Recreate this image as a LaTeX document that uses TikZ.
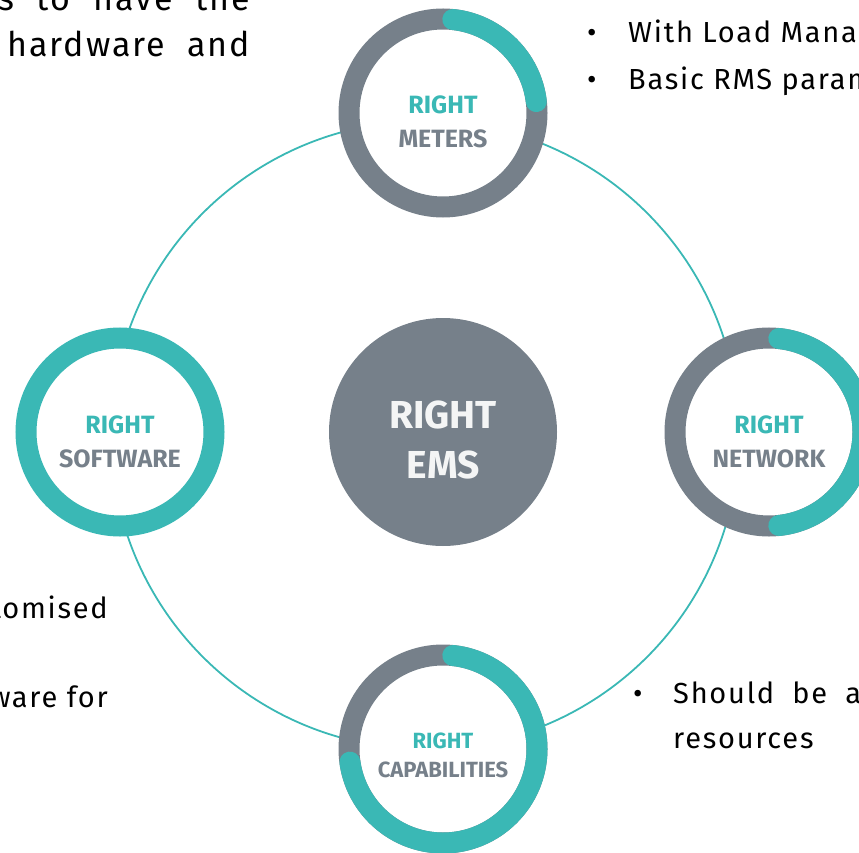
\documentclass[tikz,border=0pt]{standalone}
\usepackage{fontspec}
\setmainfont{Fira Sans}[LetterSpace=6]
\newfontfamily\labelfont{Fira Sans}
\usepackage{tikz}
\usepackage{xcolor}
\definecolor{emsteal}{HTML}{3AB8B5}
\definecolor{emsgrey}{HTML}{76808A}
\definecolor{emswhite}{HTML}{F4F5F5}
\tikzset{
    ring/.style = {circle, draw=emsgrey, fill=white, line width=21pt, minimum size=188pt, inner sep=0pt},
    ring-arc/.style = {draw=emsteal, line width=21pt, line cap=round},
    big-ring/.style = {draw=emsteal, line width=1.8pt},
    hub/.style = {circle, fill=emsgrey, minimum size=228pt, inner sep=0pt},
    hub-text/.style = {anchor=base, text=emswhite, font=\labelfont\bfseries\fontsize{39}{39}\selectfont},
    ring-top/.style = {anchor=base, text=emsteal, font=\labelfont\bfseries\fontsize{25}{25}\selectfont},
    ring-bot/.style = {anchor=base, text=emsgrey, font=\labelfont\bfseries\fontsize{25}{25}\selectfont},
    body/.style = {anchor=base west, inner sep=0pt, font=\fontsize{29}{29}\selectfont},
}

\begin{document}
\begin{tikzpicture}[x=1pt, y=1pt]
\useasboundingbox (0,0) rectangle (859,-853);
\clip (0,0) rectangle (859,-853);

% centre and the circle through the four rings
\node [hub] (ems) at (443,-432) {};
\coordinate (loop-c) at ([shift={(-18pt,-3pt)}]ems.center);
\draw [big-ring] (loop-c) circle [radius=314pt];
\node [hub-text] (ems-a) at (443,-428) {RIGHT};
\node [hub-text] (ems-b) at (443,-478) {EMS};

% rings
\node [ring] (meters) at (443,-113) {};
\node [ring] (network) at (769,-432) {};
\node [ring] (capab) at (443,-749) {};
\node [ring, draw=emsteal] (software) at (120,-432) {};

% teal parts of the rings
\draw [ring-arc] ([shift={(84:94pt)}]meters.center) arc [start angle=84, end angle=7, radius=94pt];
\draw [ring-arc] ([shift={(84:94pt)}]network.center) arc [start angle=84, end angle=-84, radius=94pt];
\draw [ring-arc] ([shift={(84:94pt)}]capab.center) arc [start angle=84, end angle=-172, radius=94pt];

% ring labels
\node [ring-top] (meters-a) at ([yshift=-1pt]meters.center) {RIGHT};
\node [ring-bot] (meters-b) at ([yshift=-35pt]meters.center) {METERS};
\node [ring-top] (network-a) at ([yshift=-1pt]network.center) {RIGHT};
\node [ring-bot] (network-b) at ([yshift=-35pt]network.center) {NETWORK};
\node [ring-top] (software-a) at ([yshift=-1pt]software.center) {RIGHT};
\node [ring-bot] (software-b) at ([yshift=-35pt]software.center) {SOFTWARE};
\node [ring-top, font=\labelfont\bfseries\fontsize{22}{22}\selectfont] (capab-a) at ([yshift=1pt]capab.center) {RIGHT};
\node [ring-bot, font=\labelfont\bfseries\fontsize{22}{22}\selectfont] (capab-b) at ([yshift=-28pt]capab.center) {CAPABILITIES};

% text round the picture
\node [body, font=\fontsize{34}{34}\selectfont] (tl-a) at (-2,-11) {\makebox[252pt][s]{s to have the}};
\node [body, font=\fontsize{34}{34}\selectfont] (tl-b) at (7,-57) {\makebox[243pt][s]{hardware and}};
\node [body] (tr-dot-a) at (587,-43) {•};
\node [body] (tr-a) at (628,-43) {With Load Manag};
\node [body] (tr-dot-b) at (587,-90) {•};
\node [body] (tr-b) at (628,-90) {Basic RMS param};
\node [body, anchor=base east] (bl-a) at (108,-618) {tomised};
\node [body, anchor=base east] (bl-b) at (108,-707) {ware for};
\node [body] (br-dot) at (633,-703) {•};
\node [body] (br-a) at (673,-703) {\makebox[188pt][s]{Should be a}};
\node [body] (br-b) at (673,-748) {resources};
\end{tikzpicture}
\end{document}
